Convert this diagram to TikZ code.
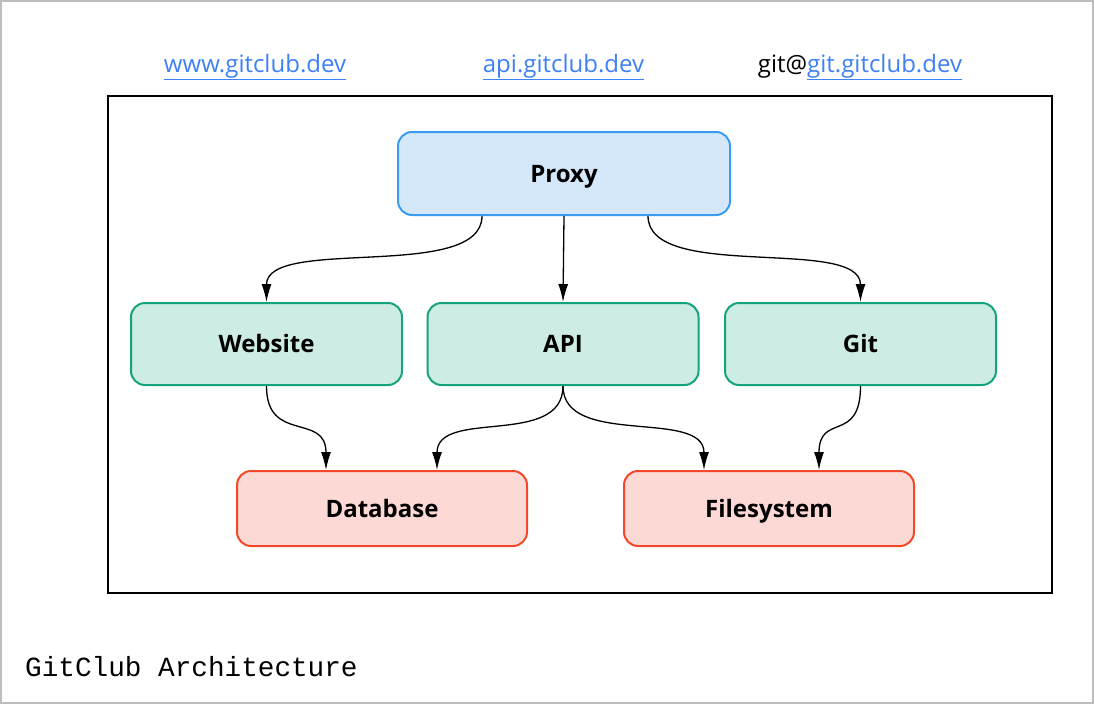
\documentclass[tikz,border=0pt]{standalone}
\usepackage{fontspec}
\setmainfont{Open Sans}
\setmonofont{Liberation Mono}
\usetikzlibrary{arrows.meta}
\definecolor{proxyfill}{HTML}{D5E8F9}
\definecolor{proxyline}{HTML}{3A9CF0}
\definecolor{svcfill}{HTML}{CDECE4}
\definecolor{svcline}{HTML}{15A37F}
\definecolor{storefill}{HTML}{FCD9D4}
\definecolor{storeline}{HTML}{F2492A}
\definecolor{linkblue}{HTML}{3E80F5}
\definecolor{framegray}{HTML}{BDBDBD}
\begin{document}
\begin{tikzpicture}[x=1pt,y=-1pt,
  box/.style={rounded corners=14pt,line width=2pt,inner sep=0pt,text height=17pt,text depth=0pt,
    font=\fontsize{24}{28}\selectfont\bfseries},
  proxybox/.style={box,draw=proxyline,fill=proxyfill,minimum width=332pt,minimum height=83pt},
  svcbox/.style={box,draw=svcline,fill=svcfill,minimum width=271pt,minimum height=82pt},
  storebox/.style={box,draw=storeline,fill=storefill,minimum width=290pt,minimum height=75pt},
  url/.style={inner sep=0pt,text height=17pt,text depth=0pt,text=linkblue,font=\fontsize{24}{28}\selectfont},
  flow/.style={-{Latex[length=18pt,width=10pt]},line width=1.3pt}]
  \useasboundingbox (0,0) rectangle (1094,704);
  \draw[framegray,line width=2pt] (1,1) rectangle (1093,703);
  \draw[line width=2pt] (108,96) rectangle (1052,593);

  \node[url] (wwwurl) at (255,64) {\underline{www.gitclub.dev}};
  \node[url] (apiurl) at (563.5,64) {\underline{api.gitclub.dev}};
  \node[url] (giturl) at (860,64) {\textcolor{black}{git@}\underline{git.gitclub.dev}};

  \node[proxybox] (proxy) at (564,173.5) {Proxy};
  \node[svcbox] (website) at (266.5,344) {Website};
  \node[svcbox] (api) at (563,344) {API};
  \node[svcbox] (git) at (860.5,344) {Git};
  \node[storebox] (database) at (382,508.5) {Database};
  \node[storebox] (filesystem) at (769,508.5) {Filesystem};

  \draw[flow] ([xshift=-82]proxy.south) .. controls +(0,66) and +(0,-66) .. (website.north);
  \draw[flow] (proxy.south) -- (api.north);
  \draw[flow] ([xshift=84]proxy.south) .. controls +(0,66) and +(0,-66) .. (git.north);
  \draw[flow] (website.south) .. controls +(0,58) and +(0,-58) .. ([xshift=-56]database.north);
  \draw[flow] (api.south) .. controls +(0,62) and +(0,-62) .. ([xshift=55]database.north);
  \draw[flow] (api.south) .. controls +(0,62) and +(0,-62) .. ([xshift=-65]filesystem.north);
  \draw[flow] (git.south) .. controls +(0,58) and +(0,-58) .. ([xshift=50]filesystem.north);

  \node[anchor=west,inner sep=0pt,font=\ttfamily\fontsize{27.7}{30}\selectfont] (caption) at (25,667) {GitClub Architecture};
\end{tikzpicture}
\end{document}
